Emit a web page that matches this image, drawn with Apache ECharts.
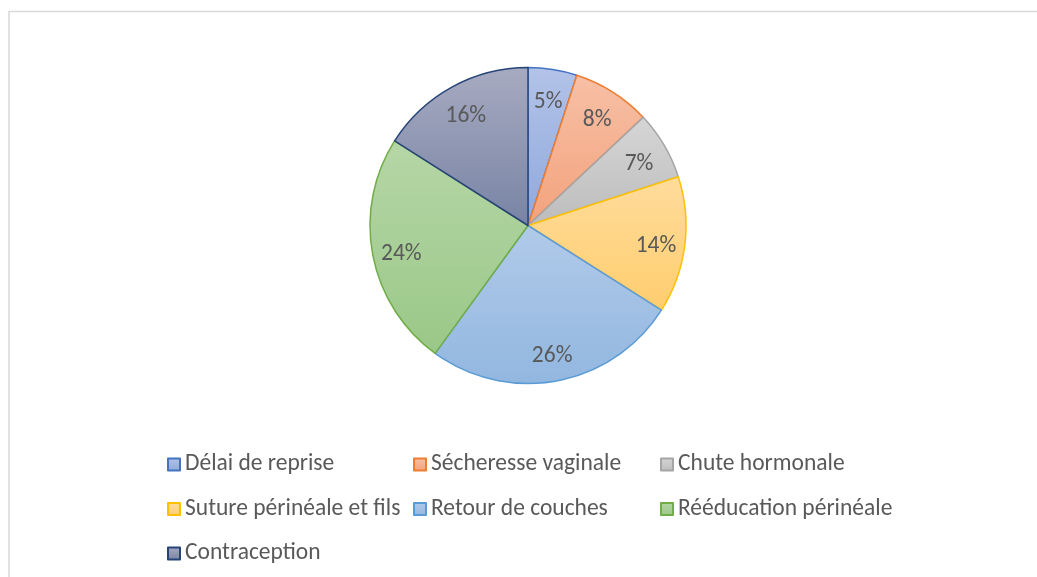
<!DOCTYPE html>
<html>
<head>
<meta charset="utf-8">
<script src="https://cdn.jsdelivr.net/npm/echarts@6/dist/echarts.min.js"></script>
<style>
html,body{margin:0;padding:0;background:#fff;}
#chart{width:1037px;height:577px;}
</style>
</head>
<body>
<div id="chart"></div>
<script>
const categories = ['Délai de reprise','Sécheresse vaginale','Chute hormonale','Suture périnéale et fils','Retour de couches','Rééducation périnéale','Contraception'];
const values = [5, 8, 7, 14, 26, 24, 16];
const borderColors = ['#4472C4','#ED7D31','#A5A5A5','#FFC000','#5B9BD5','#70AD47','#264478'];
const topColors = ['#B3C3E8','#F7C0A6','#D6D6D6','#FFDC9C','#B1CAE9','#B6D6A6','#A7ABC1'];
const bottomColors = ['#8FA8DC','#F3A27C','#BCBCBC','#FFCD6E','#92B7E0','#9AC888','#7883A4'];

const FONT = 'Carlito, Lato, sans-serif';
const cx = 528, cy = 225.5, R = 158;

const chart = echarts.init(document.getElementById('chart'), null, {renderer:'canvas'});

const data = categories.map((n,i)=>({
  name:n, value:values[i],
  itemStyle:{
    color:new echarts.graphic.LinearGradient(0,0,0,1,[{offset:0,color:topColors[i]},{offset:1,color:bottomColors[i]}]),
    borderColor:borderColors[i], borderWidth:1.5
  }
}));

const legendPos = [[167,452.5],[413,452.5],[660,452.5],[167,497],[413,497],[660,497],[167,541.5]];
const legends = categories.map((n,i)=>({
  data:[n], left:legendPos[i][0], top:legendPos[i][1], padding:0,
  itemWidth:12, itemHeight:12, icon:'rect', selectedMode:false,
  textStyle:{fontFamily:FONT, fontSize:23.5, lineHeight:24, color:'#595959'}
}));

chart.setOption({
  animation:false,
  backgroundColor:'#fff',
  graphic:[{type:'rect', shape:{x:9, y:11.5, width:1100, height:700}, style:{fill:'none', stroke:'#D9D9D9', lineWidth:1.5}, silent:true}],
  legend:legends,
  series:[
    {type:'pie', center:[cx,cy], radius:[0,R], startAngle:90, clockwise:true,
     label:{show:false}, labelLine:{show:false}, data:data, silent:true},
    {type:'pie', center:[cx,cy], radius:[94,R], startAngle:90, clockwise:true, silent:true,
     itemStyle:{color:'rgba(0,0,0,0)', borderWidth:0},
     label:{show:true, position:'inside', formatter:p=>p.value+'%', fontFamily:FONT, fontSize:23.5, color:'#595959'},
     labelLayout:function(){ return {dy:4}; },
     labelLine:{show:false},
     data:categories.map((n,i)=>({name:n, value:values[i]}))}
  ]
});
</script>
</body>
</html>
